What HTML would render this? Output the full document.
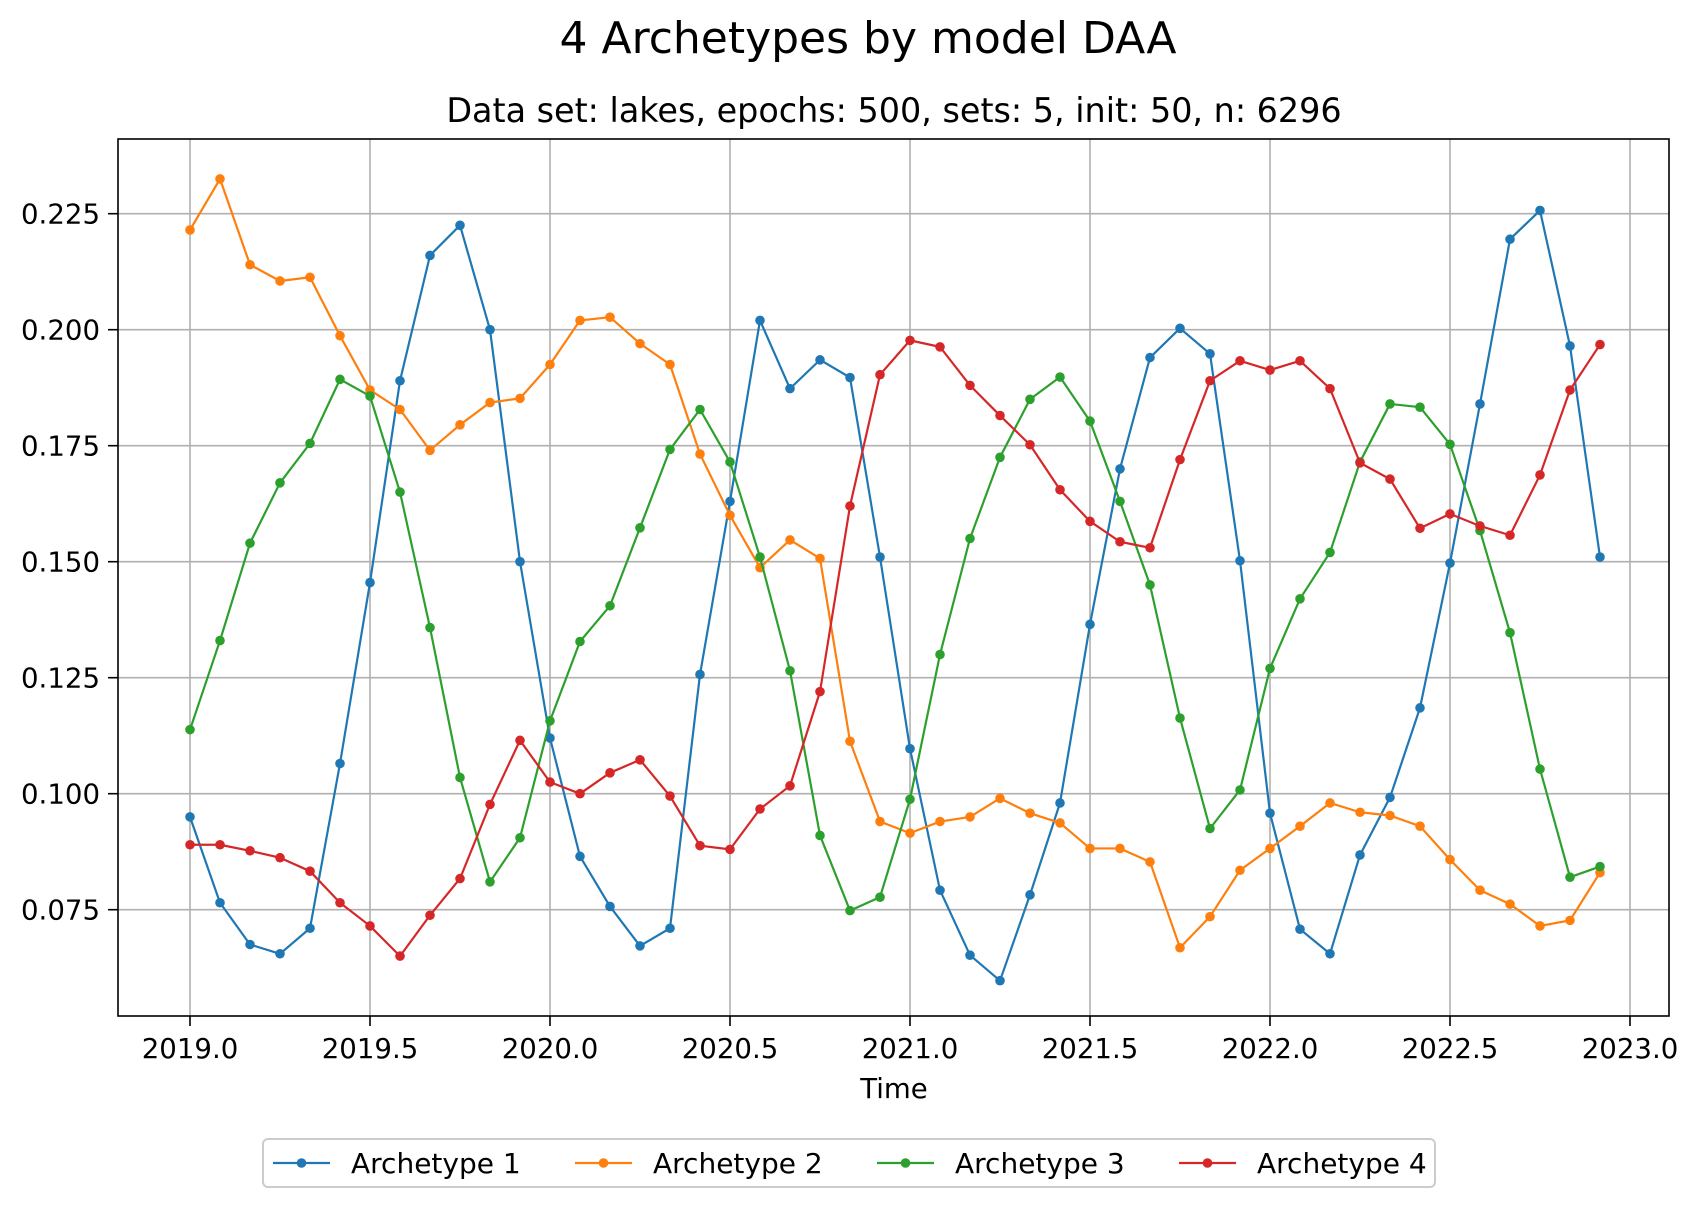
<!DOCTYPE html>
<html><head><meta charset="utf-8"><style>
html,body{margin:0;padding:0;background:#fff;}
svg text{font-family:"DejaVu Sans","Liberation Sans",sans-serif;fill:#000;}
</style></head><body>
<svg id="chart" width="1697" height="1202" viewBox="0 0 1697 1202" xmlns="http://www.w3.org/2000/svg">
<rect width="1697" height="1202" fill="#fff"/>
<text x="868" y="53" font-size="44" text-anchor="middle">4 Archetypes by model DAA</text>
<text x="894" y="122" font-size="33.4" text-anchor="middle">Data set: lakes, epochs: 500, sets: 5, init: 50, n: 6296</text>
<g id="grid"></g>
<g id="ticks"></g>
<g id="series"></g>
<rect x="118" y="139" width="1551" height="877" fill="none" stroke="#000" stroke-width="1.6"/>
<text x="894" y="1098" font-size="27.6" text-anchor="middle">Time</text>
<g id="legend">
<rect x="263" y="1139" width="1172" height="48" rx="5" fill="#fff" stroke="#ccc" stroke-width="2"/>
</g>
</svg>
<script>
const seriesNames=["Archetype 1","Archetype 2","Archetype 3","Archetype 4"];
const colors=["#1f77b4","#ff7f0e","#2ca02c","#d62728"];
const arch1=[0.095,0.0765,0.0675,0.0655,0.071,0.1065,0.1455,0.189,0.216,0.2225,0.200,0.150,0.112,0.0865,0.0757,0.0672,0.071,0.1257,0.163,0.202,0.1873,0.1935,0.1897,0.151,0.1097,0.0792,0.0652,0.0597,0.0782,0.098,0.1365,0.170,0.194,0.2003,0.1948,0.1502,0.0958,0.0708,0.0655,0.0868,0.0992,0.1185,0.1497,0.184,0.2195,0.2257,0.1965,0.151];
const arch2=[0.2215,0.2325,0.214,0.2105,0.2113,0.1987,0.187,0.1828,0.174,0.1795,0.1843,0.1852,0.1925,0.202,0.2027,0.197,0.1925,0.1732,0.160,0.1487,0.1547,0.1507,0.1113,0.094,0.0915,0.094,0.095,0.099,0.0958,0.0937,0.0882,0.0882,0.0853,0.0668,0.0735,0.0835,0.0882,0.093,0.098,0.096,0.0953,0.093,0.0858,0.0792,0.0762,0.0715,0.0727,0.083];
const arch3=[0.1138,0.133,0.154,0.167,0.1755,0.1893,0.1857,0.165,0.1358,0.1035,0.081,0.0905,0.1157,0.1328,0.1405,0.1573,0.1742,0.1828,0.1715,0.151,0.1265,0.091,0.0748,0.0777,0.0988,0.130,0.155,0.1725,0.185,0.1898,0.1803,0.163,0.145,0.1163,0.0925,0.1008,0.127,0.142,0.152,0.1715,0.184,0.1833,0.1753,0.1567,0.1347,0.1053,0.082,0.0843];
const arch4=[0.089,0.089,0.0877,0.0862,0.0833,0.0765,0.0715,0.065,0.0738,0.0817,0.0977,0.1115,0.1025,0.100,0.1045,0.1073,0.0995,0.0888,0.088,0.0967,0.1017,0.122,0.162,0.1903,0.1977,0.1963,0.188,0.1815,0.1752,0.1655,0.1587,0.1543,0.153,0.172,0.189,0.1933,0.1913,0.1933,0.1873,0.1713,0.1678,0.1572,0.1603,0.1577,0.1557,0.1687,0.187,0.1968];
const xTicks=[2019.0,2019.5,2020.0,2020.5,2021.0,2021.5,2022.0,2022.5,2023.0];
const yTicks=[0.075,0.100,0.125,0.150,0.175,0.200,0.225];
const startYear=2019.0;

const NS="http://www.w3.org/2000/svg";
function xS(t){return 190+(t-2019.0)*360;}
function yS(v){return 213.7+(0.225-v)/0.025*116;}
function mk(tag,attrs,parent){const e=document.createElementNS(NS,tag);for(const k in attrs)e.setAttribute(k,attrs[k]);parent.appendChild(e);return e;}
const grid=document.getElementById('grid'),ticks=document.getElementById('ticks'),sg=document.getElementById('series'),lg=document.getElementById('legend');
xTicks.forEach(t=>{
  const x=xS(t);
  const g=mk('line',{x1:x,x2:x,y1:139,y2:1016,stroke:'#b0b0b0','stroke-width':1.6},grid);
  
  
  const tk=mk('line',{x1:x,x2:x,y1:1016,y2:1026,stroke:'#000','stroke-width':1.6},ticks);
  
  
  const tx=mk('text',{x:x,y:1058,'font-size':27.6,'text-anchor':'middle'},ticks);
  tx.textContent=t.toFixed(1);
  
  
});
yTicks.forEach(v=>{
  const y=yS(v);
  const g=mk('line',{x1:118,x2:1669,y1:y,y2:y,stroke:'#b0b0b0','stroke-width':1.6},grid);
  
  
  const tk=mk('line',{x1:108,x2:118,y1:y,y2:y,stroke:'#000','stroke-width':1.6},ticks);
  
  
  const tx=mk('text',{x:100,y:y+10,'font-size':27.6,'text-anchor':'end'},ticks);
  tx.textContent=v.toFixed(3);
  
  
});
[arch1,arch2,arch3,arch4].forEach((arr,si)=>{
  const pts=arr.map((v,i)=>[xS(startYear+i/12),yS(v)]);
  const pl=mk('polyline',{points:pts.map(p=>p.join(',')).join(' '),fill:'none',stroke:colors[si],'stroke-width':2.2,'stroke-linejoin':'round'},sg);
  
  
  pts.forEach(p=>{
    const c=mk('circle',{cx:p[0],cy:p[1],r:4.8,fill:colors[si]},sg);
    
    
  });
  const lx=273+si*302, ly=1163;
  const ll=mk('line',{x1:lx,x2:lx+57,y1:ly,y2:ly,stroke:colors[si],'stroke-width':2.2},lg);
  
  
  const lc=mk('circle',{cx:lx+28.5,cy:ly,r:4.8,fill:colors[si]},lg);
  
  
  const lt=mk('text',{x:lx+78,y:ly+10,'font-size':28},lg);
  lt.textContent=seriesNames[si];
  
  
});
</script>
</body></html>
